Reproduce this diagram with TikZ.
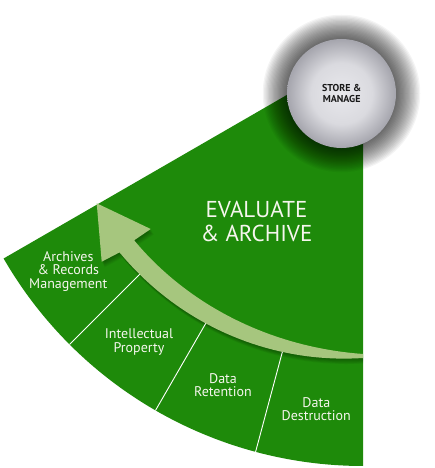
\documentclass[tikz,border=0pt]{standalone}
\usepackage{fontspec}
\setmainfont{PT Sans}
\definecolor{wedgegreen}{RGB}{30,138,10}
\definecolor{arrowgreen}{RGB}{166,198,126}
\definecolor{labelwhite}{RGB}{246,246,238}
\definecolor{sphin}{RGB}{232,232,236}
\definecolor{sphmid}{RGB}{218,218,223}
\definecolor{sphout}{RGB}{165,165,173}
\pgfdeclareradialshading{sphere}{\pgfpoint{0bp}{0bp}}{color(0bp)=(sphin); color(14bp)=(sphmid); color(25bp)=(sphout); color(50bp)=(sphout)}
\newcommand{\myarrowpath}{%
  plot[domain=90:140.4,samples=40,variable=\t] ({363+ru(\t)*cos(\t)},{51+ru(\t)*sin(\t)})
  -- (150.7,229) -- (96.7,203.3) -- (101.7,261.7)
  -- plot[domain=140.4:90,samples=40,variable=\t] ({363+rl(\t)*cos(\t)},{51+rl(\t)*sin(\t)})
  -- cycle}
\begin{document}
\begin{tikzpicture}[x=1pt,y=-1pt,
  declare function={rl(\t)=307+9*(1-((140.5-\t)/50.5)^2); aw(\t)=4+15*(1-((140.5-\t)/50.5)^2.5); ru(\t)=rl(\t)-aw(\t);},
  lbl/.style={text=labelwhite,font=\fontsize{14}{13.5}\selectfont,align=center,inner sep=0pt},
  divider/.style={draw=white,line width=0.9pt}]
\useasboundingbox (0,0) rectangle (435,468);
\coordinate (C) at (363,51);
\coordinate (S) at (341.5,93.5);
% wedge
\fill[wedgegreen] (C) -- plot[domain=150:90,samples=90,variable=\t] ({363+415*cos(\t)},{51+415*sin(\t)}) -- cycle;
% arrow shadow
\begin{scope}
  \clip (C) -- plot[domain=150:90,samples=90,variable=\t] ({363+415*cos(\t)},{51+415*sin(\t)}) -- cycle;
  \foreach \d in {1,...,6} {\fill[black,opacity=0.055,shift={(0.5*\d,0.9*\d)}] \myarrowpath;}
\end{scope}
% dividers
\foreach \a in {105,120,135} {\draw[divider] ({363+415*cos(\a)},{51+415*sin(\a)}) -- ({363+(rl(\a)-3)*cos(\a)},{51+(rl(\a)-3)*sin(\a)});}
% arrow
\fill[arrowgreen] \myarrowpath;
% labels
\node[lbl] (arm) at (68.3,271.5) {Archives\\\& Records\\Management};
\node[lbl] (ip) at (139,342) {Intellectual\\Property};
\node[lbl] (dr) at (223,385) {Data\\Retention};
\node[lbl] (dd) at (316.3,409.2) {Data\\Destruction};
\node[text=labelwhite,font=\fontsize{23}{24}\selectfont,align=center,inner sep=0pt] (ea) at (256.5,221) {EVALUATE\\\& ARCHIVE};
% halo
\foreach \i in {0,...,19} {\pgfmathsetmacro\rr{55+1.25*\i}\fill[black,opacity=0.045] (S) circle[radius=\rr pt];}
% sphere
\shade[shading=sphere] (S) circle[radius=54.5pt];
\node[font=\bfseries\fontsize{10}{10.7}\selectfont,align=center,inner sep=0pt,text=black!90] (sm) at (341.7,93.3) {STORE \&\\MANAGE};
\end{tikzpicture}
\end{document}
